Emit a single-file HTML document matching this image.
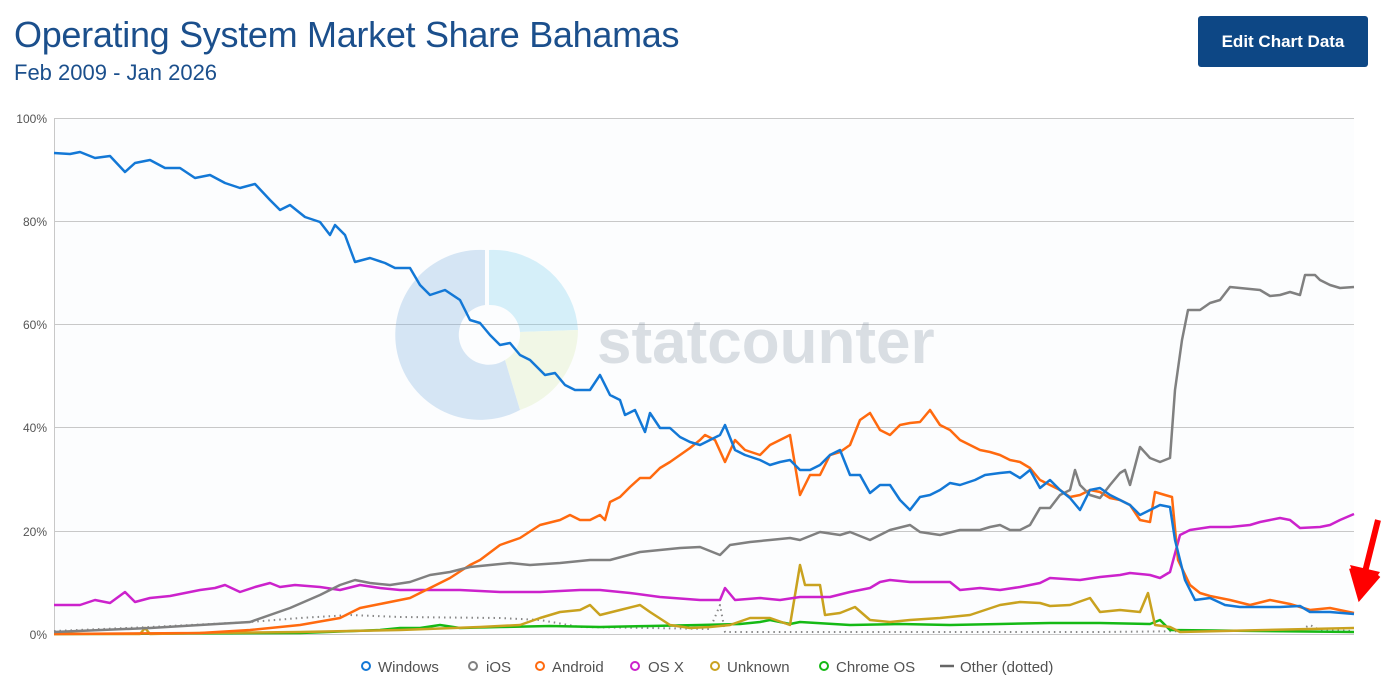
<!DOCTYPE html>
<html><head><meta charset="utf-8"><style>
body{margin:0;background:#fff;font-family:"Liberation Sans",sans-serif;}
#w{position:relative;width:1394px;height:686px;overflow:hidden;background:#fff}
h1{position:absolute;left:14px;top:14px;margin:0;font-weight:normal;font-size:36px;color:#1b4f8c;letter-spacing:-0.3px}
.sub{position:absolute;left:14px;top:60px;font-size:22px;color:#1b4f8c}
.btn{position:absolute;left:1198px;top:16px;width:170px;height:51px;background:#0d4785;border-radius:3px;color:#fff;font-weight:bold;font-size:17px;line-height:51px;text-align:center}
</style></head><body><div id="w">
<h1>Operating System Market Share Bahamas</h1>
<div class="sub">Feb 2009 - Jan 2026</div>
<div class="btn">Edit Chart Data</div>
<svg width="1394" height="686" style="position:absolute;left:0;top:0">
<rect x="54" y="118" width="1300" height="516" fill="#fcfdfe"/>
<g stroke="#c8c8c8" stroke-width="1">
<line x1="54" y1="118.5" x2="1354" y2="118.5"/><line x1="54" y1="221.5" x2="1354" y2="221.5"/>
<line x1="54" y1="324.5" x2="1354" y2="324.5"/><line x1="54" y1="427.5" x2="1354" y2="427.5"/>
<line x1="54" y1="531.5" x2="1354" y2="531.5"/><line x1="54" y1="634.5" x2="1354" y2="634.5"/>
<line x1="54.5" y1="118" x2="54.5" y2="634"/>
</g>
<g font-size="12" fill="#555" text-anchor="end">
<text x="47" y="123">100%</text><text x="47" y="226">80%</text><text x="47" y="329">60%</text>
<text x="47" y="432">40%</text><text x="47" y="536">20%</text><text x="47" y="639">0%</text>
</g>
<g opacity="0.3">
<path d="M489,250 A85,85 0 0 1 578,330 L520,332 A30,30 0 0 0 489,305 Z" fill="#7fd0ee"/>
<path d="M578,330 A85,85 0 0 1 520,410 L505,360 A30,30 0 0 0 520,332 Z" fill="#d9ebb0"/>
<path d="M520,410 A85,85 0 1 1 485,250 L485,305 A30,30 0 1 0 505,360 Z" fill="#7fb0e0"/>
<text x="597" y="363" font-size="62" font-weight="bold" fill="#8a98a8">statcounter</text>
</g>
<g fill="none" stroke-width="2.5" stroke-linejoin="round">
<polyline stroke="#888" stroke-width="2" stroke-dasharray="1.5,4" points="54,631 150,627 250,622 300,618 350,615 400,617 500,618 540,620 580,627 650,628 710,629 720,605 725,632 800,632 900,632 1000,632 1100,632 1300,630 1310,625 1320,630 1354,631"/>
<polyline stroke="#15b915" points="54,634 300,633 380,630 400,628 420,628 440,625 460,628 500,627 550,626 600,627 650,626 700,625 740,624 760,622 770,620 790,624 800,622 850,625 900,624 950,625 1000,624 1050,623 1100,623 1150,624 1160,620 1170,630 1354,632"/>
<polyline stroke="#c9a21f" points="54,634 140,634 145,628 150,634 200,633 300,632 400,630 480,627 520,625 540,618 560,612 580,610 590,605 600,615 620,610 640,605 650,612 670,625 690,628 710,627 730,625 750,618 770,618 790,625 800,565 805,585 820,585 825,615 840,613 855,607 870,620 890,622 910,620 940,618 970,615 1000,605 1020,602 1040,603 1050,606 1070,605 1090,598 1100,612 1120,610 1140,612 1148,593 1155,625 1170,627 1180,632 1354,628"/>
<polyline stroke="#cc22cc" points="54,605 80,605 95,600 110,603 125,592 135,602 150,598 170,596 190,592 200,590 215,588 225,585 240,592 255,587 270,583 280,587 295,585 320,587 340,590 360,585 380,588 400,590 430,590 460,590 500,592 540,592 580,590 600,590 630,593 660,597 700,600 720,600 725,588 735,600 760,598 780,600 800,597 830,597 850,592 870,588 880,582 890,580 910,582 930,582 950,582 960,590 980,588 1000,590 1020,587 1040,583 1050,578 1080,580 1100,577 1120,575 1130,573 1150,575 1160,578 1170,572 1180,535 1190,530 1210,527 1230,527 1250,525 1260,522 1280,518 1290,520 1300,528 1320,527 1330,525 1340,520 1354,514"/>
<polyline stroke="#ff6a0f" points="54,634 200,633 250,630 300,625 340,618 360,608 380,604 410,598 430,588 450,578 470,565 480,560 500,545 520,538 540,525 560,520 570,515 580,520 590,520 600,515 605,520 610,502 620,497 630,487 640,478 650,478 660,468 670,462 680,455 690,448 700,440 705,435 715,440 725,462 735,440 745,450 760,455 770,445 780,440 790,435 800,495 810,475 820,475 830,455 840,452 850,445 860,420 870,413 880,430 890,435 900,425 910,423 920,422 930,410 940,425 950,430 960,440 970,445 980,450 990,452 1000,455 1010,460 1020,462 1030,468 1040,480 1050,485 1060,490 1070,497 1080,495 1090,490 1100,492 1110,498 1120,500 1130,505 1140,520 1150,522 1155,492 1165,495 1172,497 1178,560 1190,585 1200,593 1210,596 1230,600 1250,605 1270,600 1290,604 1300,607 1310,610 1330,608 1354,613"/>
<polyline stroke="#808080" points="54,632 150,628 250,622 290,608 320,595 340,585 355,580 370,583 390,585 410,582 430,575 450,572 470,567 490,565 510,563 530,565 560,563 590,560 610,560 640,552 660,550 680,548 700,547 720,555 730,545 750,542 770,540 790,538 800,540 820,532 840,535 850,532 870,540 880,535 890,530 910,525 920,532 940,535 960,530 980,530 990,527 1000,525 1010,530 1020,530 1030,525 1040,508 1050,508 1060,495 1070,490 1075,470 1080,485 1090,495 1100,498 1110,485 1120,473 1125,470 1130,485 1140,447 1150,458 1160,462 1170,458 1175,390 1182,340 1188,310 1200,310 1210,303 1220,300 1230,287 1240,288 1260,290 1270,296 1280,295 1290,292 1300,295 1305,275 1315,275 1320,280 1330,285 1340,288 1354,287"/>
<polyline stroke="#1378d6" points="54,153 70,154 80,152 95,158 110,156 125,172 135,163 150,160 165,168 180,168 195,178 210,175 225,183 240,188 255,184 270,200 280,210 290,205 305,217 320,222 330,235 335,225 345,235 355,262 370,258 385,263 395,268 410,268 420,285 430,295 445,290 460,300 470,320 480,323 490,335 500,345 510,343 520,355 530,360 545,375 555,373 565,385 575,390 590,390 600,375 610,395 620,400 625,415 635,410 645,432 650,413 660,428 670,428 680,437 690,442 700,445 710,440 720,435 725,425 735,450 745,455 760,460 770,465 780,462 790,460 800,470 810,470 820,465 830,455 840,450 850,475 860,475 870,493 880,485 890,485 900,500 910,510 920,497 930,495 940,490 950,483 960,485 975,480 985,475 1000,473 1010,472 1020,478 1030,470 1040,488 1050,480 1060,490 1070,498 1080,510 1090,490 1100,488 1110,495 1120,500 1130,505 1140,515 1150,510 1160,505 1170,507 1175,540 1185,580 1195,600 1210,598 1225,605 1240,607 1260,607 1280,607 1300,606 1310,612 1330,612 1354,614"/>
</g>
<path d="M1378,520 L1363,580 M1352,568 L1360,596 L1378,575" stroke="#f00" stroke-width="6" fill="none"/>
<polygon points="1350,565 1362,598 1380,572" fill="#f00"/>
<g font-size="15" fill="#333" fill-opacity="0.85">
<g fill="none" stroke-width="2"><circle cx="366" cy="666" r="4" stroke="#1378d6"/><circle cx="473" cy="666" r="4" stroke="#808080"/><circle cx="480" cy="666" r="0"/>
<circle cx="540" cy="666" r="4" stroke="#ff6a0f"/><circle cx="635" cy="666" r="4" stroke="#cc22cc"/><circle cx="715" cy="666" r="4" stroke="#c9a21f"/><circle cx="824" cy="666" r="4" stroke="#15b915"/></g>
<line x1="940" y1="666" x2="954" y2="666" stroke="#666" stroke-width="2.5"/>
<text x="378" y="672">Windows</text><text x="486" y="672">iOS</text><text x="552" y="672">Android</text>
<text x="648" y="672">OS X</text><text x="727" y="672">Unknown</text><text x="836" y="672">Chrome OS</text><text x="960" y="672">Other (dotted)</text>
</g>
</svg>
</div></body></html>
